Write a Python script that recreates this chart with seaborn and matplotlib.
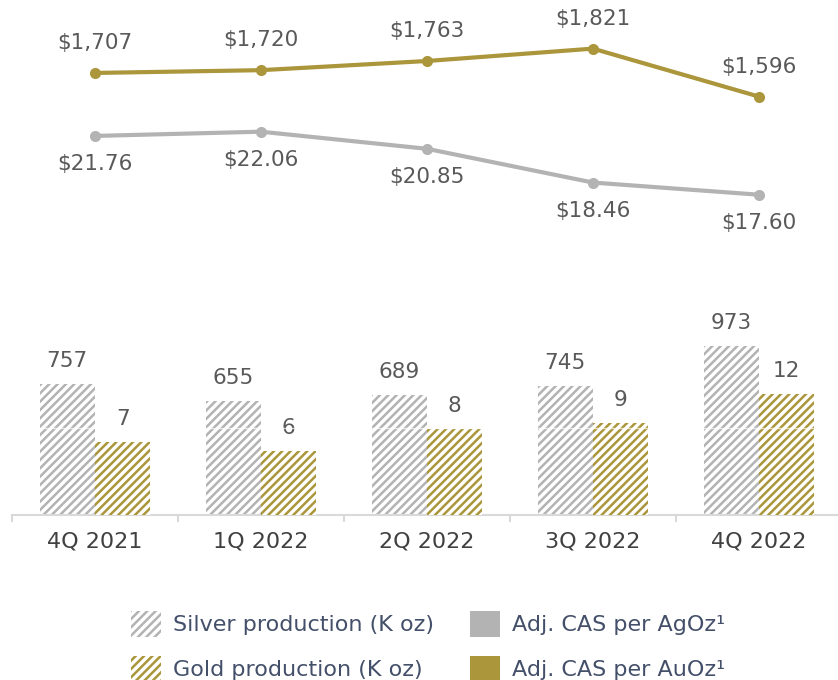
import matplotlib
matplotlib.use("Agg")
import matplotlib.pyplot as plt
import seaborn as sns
import numpy as np
import pandas as pd
from matplotlib.patches import Patch

# data
quarters = ["4Q 2021", "1Q 2022", "2Q 2022", "3Q 2022", "4Q 2022"]
silver_prod = [757, 655, 689, 745, 973]      # K oz
gold_prod = [7.0, 6.2, 8.3, 8.8, 11.6]       # K oz (bar heights, labels rounded)
ag_cas = [21.76, 22.06, 20.85, 18.46, 17.60] # $/AgOz
au_cas = [1707, 1720, 1763, 1821, 1596]      # $/AuOz

sns.set_theme(style="white")
plt.rcParams["font.family"] = ["DejaVu Sans"]
plt.rcParams["hatch.linewidth"] = 1.8

GOLD = "#ab963b"
SILVER = "#b3b3b3"
LABEL = "#595959"
TEXT = "#44506a"
AXIS = "#d9d9d9"

W, H = 838, 680
fig = plt.figure(figsize=(W / 100, H / 100), dpi=100)

def px_axes(x0, y0, x1, y1):
    return fig.add_axes([x0 / W, 1 - y1 / H, (x1 - x0) / W, (y1 - y0) / H])

xi = np.arange(len(quarters))
xmax = -0.5 + 826 / 166

# ---- top: cost lines ----
ax_au = px_axes(12, 0, 838, 260)
ax_ag = ax_au.twinx()
sns.lineplot(x=xi, y=au_cas, ax=ax_au, color=GOLD, lw=3, marker="o",
             markersize=8, markeredgewidth=0)
sns.lineplot(x=xi, y=ag_cas, ax=ax_ag, color=SILVER, lw=3, marker="o",
             markersize=8, markeredgewidth=0)
ax_au.set_ylim(830, 2049)
ax_ag.set_ylim(12.98, 31.38)
for x, v in zip(xi, au_cas):
    ax_au.annotate(f"${v:,.0f}", (x, v), xytext=(0, 30), textcoords="offset pixels",
                   ha="center", va="center", fontsize=15.5, color=LABEL)
for x, v in zip(xi, ag_cas):
    ax_ag.annotate(f"${v:.2f}", (x, v), xytext=(0, -28), textcoords="offset pixels",
                   ha="center", va="center", fontsize=15.5, color=LABEL)
for a in (ax_au, ax_ag):
    a.set_xlim(-0.5, xmax)
    a.axis("off")

# ---- bottom: production bars ----
ax_s = px_axes(12, 280, 838, 515)
ax_g = ax_s.twinx()
df_s = pd.DataFrame({"x": xi - 1 / 6, "v": silver_prod})
df_g = pd.DataFrame({"x": xi + 1 / 6, "v": gold_prod})
sns.barplot(data=df_s, x="x", y="v", ax=ax_s, native_scale=True, width=1 / 3,
            color="white", edgecolor=SILVER, hatch="////", linewidth=0,
            saturation=1, errorbar=None)
sns.barplot(data=df_g, x="x", y="v", ax=ax_g, native_scale=True, width=1 / 3,
            color="white", edgecolor=GOLD, hatch="////", linewidth=0,
            saturation=1, errorbar=None)
ax_s.set_ylim(0, 1353)
ax_g.set_ylim(0, 22.6)
# faint white gridline crossing the bars
ax_g.plot([-0.5, xmax], [500, 500], transform=ax_s.transData, color="white",
          lw=1, alpha=0.7, zorder=5)

for x, v in zip(df_s["x"], silver_prod):
    ax_s.annotate(f"{v}", (x, v), xytext=(0, 23), textcoords="offset pixels",
                  ha="center", va="center", fontsize=15.5, color=LABEL)
for x, v in zip(df_g["x"], gold_prod):
    ax_g.annotate(f"{v:.0f}", (x, v), xytext=(0, 23), textcoords="offset pixels",
                  ha="center", va="center", fontsize=15.5, color=LABEL)

for a in (ax_s, ax_g):
    a.set_xlim(-0.5, xmax)
    a.set_yticks([])
    a.set_ylabel("")
    a.set_xlabel("")
    for s in a.spines.values():
        s.set_visible(False)
ax_s.spines["bottom"].set_visible(True)
ax_s.spines["bottom"].set_color(AXIS)
ax_s.spines["bottom"].set_linewidth(1.5)
ax_s.set_xticks(xi, quarters)
ax_s.set_xticks(np.arange(-0.5, 4.5, 1), minor=True)
ax_s.tick_params(axis="x", which="major", length=0, pad=12, labelsize=16,
                 labelcolor="#404040")
ax_s.tick_params(axis="x", which="minor", length=5, width=1.5, color=AXIS,
                 direction="out", bottom=True)
ax_g.tick_params(axis="x", which="both", bottom=False, labelbottom=False)

# ---- legend ----
handles = [
    Patch(facecolor="white", edgecolor=SILVER, hatch="////", linewidth=0),
    Patch(facecolor="white", edgecolor=GOLD, hatch="////", linewidth=0),
    Patch(facecolor=SILVER, edgecolor="none"),
    Patch(facecolor=GOLD, edgecolor="none"),
]
labels = ["Silver production (K oz)", "Gold production (K oz)",
          "Adj. CAS per AgOz¹", "Adj. CAS per AuOz¹"]
fig.legend(handles, labels, loc="upper left", bbox_to_anchor=(131 / W, 1 - 611 / H),
           ncol=2, frameon=False, fontsize=16, labelcolor=TEXT,
           handlelength=1.35, handleheight=1.4, handletextpad=0.55,
           columnspacing=1.6, labelspacing=0.85, borderpad=0, borderaxespad=0)

fig.savefig("out.png", dpi=100)
